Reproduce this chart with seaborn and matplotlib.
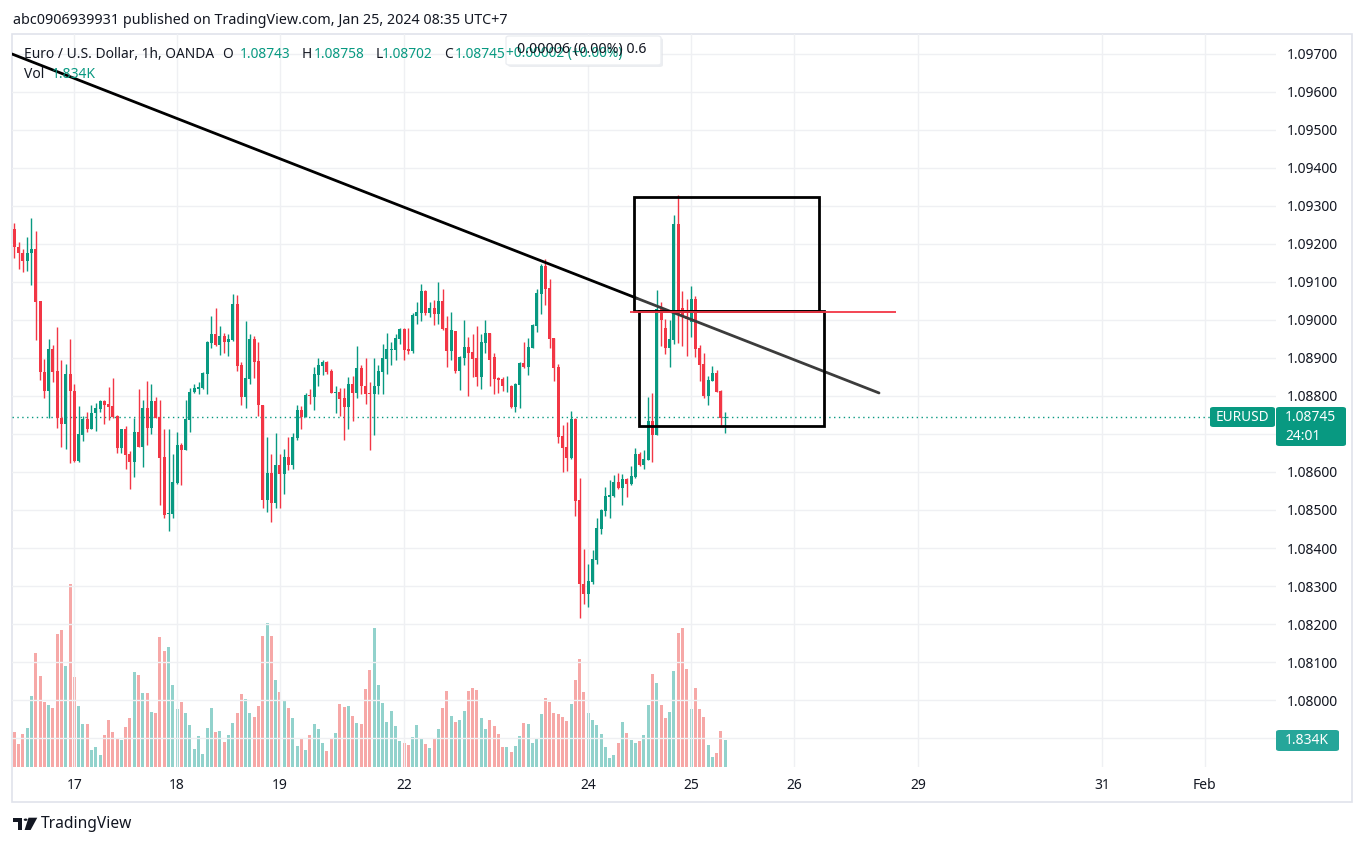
import numpy as np
import seaborn as sns
import matplotlib.pyplot as plt
from matplotlib.patches import Rectangle, FancyBboxPatch, Circle, Polygon

sns.set_theme(style="white")
plt.rcParams["font.family"] = ["Noto Sans", "DejaVu Sans"]

W, H = 1364, 846
GREEN = "#089981"
RED = "#f23645"
DARK = "#131722"

# EURUSD 1h, OANDA - hourly candles from Jan 16 10:00 to Jan 25 08:00 (UTC+7)
opens = [
    1.09240, 1.09192, 1.09177, 1.09154, 1.09175, 1.09187, 1.09050, 1.08863, 1.08814, 1.08924,
    1.08866, 1.08742, 1.08725, 1.08858, 1.08813, 1.08630, 1.08698, 1.08740, 1.08714, 1.08754,
    1.08767, 1.08787, 1.08779, 1.08774, 1.08748, 1.08662, 1.08712, 1.08648, 1.08625, 1.08704,
    1.08667, 1.08769, 1.08717, 1.08787, 1.08745, 1.08640, 1.08490, 1.08490, 1.08572, 1.08671,
    1.08659, 1.08738, 1.08811, 1.08818, 1.08821, 1.08858, 1.08940, 1.08963, 1.08935, 1.08958,
    1.08943, 1.08947, 1.09042, 1.08882, 1.08798, 1.08846, 1.08950, 1.08892, 1.08776, 1.08525,
    1.08597, 1.08519, 1.08618, 1.08596, 1.08640, 1.08619, 1.08690, 1.08763, 1.08746, 1.08803,
    1.08798, 1.08855, 1.08879, 1.08890, 1.08866, 1.08808, 1.08811, 1.08796, 1.08772, 1.08832,
    1.08809, 1.08874, 1.08826, 1.08808, 1.08804, 1.08825, 1.08864, 1.08898, 1.08922, 1.08922,
    1.08951, 1.08976, 1.08924, 1.08919, 1.09011, 1.09019, 1.09076, 1.09019, 1.09032, 1.09017,
    1.09050, 1.08979, 1.08919, 1.08971, 1.08867, 1.08901, 1.08929, 1.08916, 1.08901, 1.08851,
    1.08940, 1.08966, 1.08903, 1.08848, 1.08846, 1.08825, 1.08827, 1.08772, 1.08830, 1.08887,
    1.08875, 1.08927, 1.08985, 1.09069, 1.09142, 1.09084, 1.08952, 1.08876, 1.08694, 1.08666,
    1.08637, 1.08740, 1.08527, 1.08306, 1.08280, 1.08311, 1.08369, 1.08451, 1.08498, 1.08535,
    1.08537, 1.08574, 1.08558, 1.08582, 1.08569, 1.08588, 1.08647, 1.08619, 1.08632, 1.08735,
    1.08698, 1.09028, 1.08979, 1.08927, 1.08948, 1.09252, 1.09032, 1.09011, 1.08995, 1.09056,
    1.08927, 1.08885, 1.08801, 1.08840, 1.08861, 1.08814, 1.08743,
]
highs = [
    1.09256, 1.09204, 1.09187, 1.09219, 1.09269, 1.09234, 1.09050, 1.08898, 1.08950, 1.08934,
    1.08982, 1.08894, 1.08885, 1.08950, 1.08832, 1.08774, 1.08748, 1.08758, 1.08776, 1.08781,
    1.08789, 1.08790, 1.08824, 1.08848, 1.08751, 1.08714, 1.08720, 1.08655, 1.08741, 1.08819,
    1.08790, 1.08840, 1.08832, 1.08798, 1.08790, 1.08712, 1.08712, 1.08648, 1.08704, 1.08676,
    1.08790, 1.08821, 1.08831, 1.08837, 1.08863, 1.08946, 1.09011, 1.09032, 1.08984, 1.08966,
    1.08963, 1.09068, 1.09066, 1.08890, 1.08997, 1.08963, 1.08958, 1.08943, 1.08777, 1.08692,
    1.08647, 1.08703, 1.08647, 1.08661, 1.08692, 1.08703, 1.08776, 1.08774, 1.08808, 1.08818,
    1.08877, 1.08900, 1.08895, 1.08892, 1.08871, 1.08826, 1.08821, 1.08821, 1.08850, 1.08853,
    1.08932, 1.08882, 1.08900, 1.08836, 1.08900, 1.08882, 1.08937, 1.08966, 1.08942, 1.08963,
    1.08979, 1.08979, 1.08979, 1.09018, 1.09047, 1.09095, 1.09079, 1.09047, 1.09053, 1.09100,
    1.09082, 1.09011, 1.09021, 1.08971, 1.08906, 1.09000, 1.08955, 1.08963, 1.08984, 1.08963,
    1.09000, 1.08966, 1.08914, 1.08851, 1.08851, 1.08853, 1.08830, 1.08835, 1.08889, 1.08942,
    1.08953, 1.08989, 1.09082, 1.09147, 1.09160, 1.09108, 1.08952, 1.08884, 1.08723, 1.08731,
    1.08761, 1.08742, 1.08585, 1.08398, 1.08358, 1.08395, 1.08479, 1.08503, 1.08561, 1.08579,
    1.08593, 1.08598, 1.08595, 1.08585, 1.08616, 1.08664, 1.08653, 1.08658, 1.08798, 1.08808,
    1.09079, 1.09048, 1.09003, 1.09000, 1.09277, 1.09329, 1.09077, 1.09056, 1.09089, 1.09064,
    1.08935, 1.08914, 1.08853, 1.08879, 1.08869, 1.08816, 1.08758,
]
lows = [
    1.09164, 1.09135, 1.09127, 1.09130, 1.09091, 1.08947, 1.08841, 1.08796, 1.08741, 1.08838,
    1.08717, 1.08667, 1.08660, 1.08623, 1.08625, 1.08625, 1.08681, 1.08705, 1.08712, 1.08709,
    1.08758, 1.08725, 1.08736, 1.08741, 1.08651, 1.08649, 1.08609, 1.08556, 1.08588, 1.08665,
    1.08612, 1.08672, 1.08701, 1.08742, 1.08514, 1.08480, 1.08446, 1.08480, 1.08569, 1.08567,
    1.08657, 1.08706, 1.08809, 1.08804, 1.08818, 1.08806, 1.08925, 1.08931, 1.08909, 1.08914,
    1.08906, 1.08945, 1.08867, 1.08776, 1.08769, 1.08832, 1.08848, 1.08748, 1.08506, 1.08496,
    1.08469, 1.08506, 1.08504, 1.08543, 1.08604, 1.08609, 1.08684, 1.08714, 1.08744, 1.08779,
    1.08764, 1.08827, 1.08855, 1.08858, 1.08808, 1.08756, 1.08748, 1.08683, 1.08714, 1.08733,
    1.08796, 1.08804, 1.08780, 1.08659, 1.08698, 1.08806, 1.08806, 1.08859, 1.08882, 1.08896,
    1.08938, 1.08896, 1.08911, 1.08914, 1.08990, 1.08997, 1.09013, 1.09009, 1.08988, 1.08990,
    1.08974, 1.08875, 1.08896, 1.08861, 1.08817, 1.08882, 1.08801, 1.08851, 1.08827, 1.08819,
    1.08914, 1.08825, 1.08806, 1.08809, 1.08814, 1.08811, 1.08769, 1.08759, 1.08769, 1.08874,
    1.08856, 1.08925, 1.08969, 1.09017, 1.09040, 1.08927, 1.08840, 1.08677, 1.08600, 1.08603,
    1.08635, 1.08485, 1.08216, 1.08253, 1.08245, 1.08306, 1.08358, 1.08437, 1.08485, 1.08479,
    1.08535, 1.08556, 1.08514, 1.08535, 1.08566, 1.08585, 1.08616, 1.08608, 1.08632, 1.08627,
    1.08698, 1.08932, 1.08911, 1.08877, 1.08937, 1.08940, 1.08932, 1.08906, 1.08956, 1.08903,
    1.08840, 1.08795, 1.08777, 1.08840, 1.08811, 1.08724, 1.08702,
]
closes = [
    1.09191, 1.09175, 1.09154, 1.09177, 1.09187, 1.09048, 1.08862, 1.08814, 1.08924, 1.08863,
    1.08741, 1.08725, 1.08858, 1.08812, 1.08630, 1.08700, 1.08740, 1.08714, 1.08755, 1.08769,
    1.08787, 1.08777, 1.08772, 1.08746, 1.08662, 1.08712, 1.08646, 1.08625, 1.08704, 1.08667,
    1.08769, 1.08717, 1.08787, 1.08743, 1.08638, 1.08488, 1.08492, 1.08574, 1.08671, 1.08659,
    1.08740, 1.08811, 1.08821, 1.08824, 1.08861, 1.08943, 1.08963, 1.08933, 1.08958, 1.08943,
    1.08950, 1.09042, 1.08880, 1.08798, 1.08847, 1.08950, 1.08890, 1.08775, 1.08525, 1.08597,
    1.08519, 1.08618, 1.08596, 1.08640, 1.08618, 1.08692, 1.08763, 1.08746, 1.08803, 1.08800,
    1.08858, 1.08882, 1.08890, 1.08863, 1.08809, 1.08811, 1.08793, 1.08772, 1.08832, 1.08809,
    1.08874, 1.08825, 1.08806, 1.08804, 1.08826, 1.08866, 1.08900, 1.08924, 1.08924, 1.08953,
    1.08976, 1.08922, 1.08919, 1.09013, 1.09021, 1.09076, 1.09019, 1.09032, 1.09017, 1.09050,
    1.08976, 1.08919, 1.08974, 1.08867, 1.08903, 1.08929, 1.08914, 1.08898, 1.08851, 1.08942,
    1.08966, 1.08896, 1.08846, 1.08843, 1.08825, 1.08827, 1.08772, 1.08832, 1.08887, 1.08875,
    1.08929, 1.08987, 1.09071, 1.09142, 1.09082, 1.08950, 1.08874, 1.08693, 1.08664, 1.08637,
    1.08740, 1.08524, 1.08306, 1.08280, 1.08314, 1.08371, 1.08453, 1.08500, 1.08537, 1.08540,
    1.08574, 1.08558, 1.08582, 1.08569, 1.08590, 1.08647, 1.08619, 1.08635, 1.08735, 1.08698,
    1.09028, 1.09000, 1.08927, 1.08950, 1.09252, 1.09016, 1.09008, 1.09003, 1.09056, 1.08924,
    1.08882, 1.08801, 1.08843, 1.08861, 1.08811, 1.08743, 1.08745,
]
# volume, thousands
volumes = [
    2.38, 1.56, 2.24, 2.66, 4.85, 7.81, 6.23, 4.44, 4.24, 4.03,
    9.11, 9.39, 6.92, 12.55, 6.16, 4.17, 2.93, 2.93, 1.15, 1.35,
    0.80, 2.18, 3.21, 2.38, 1.97, 1.83, 2.73, 3.34, 6.50, 6.30,
    5.06, 5.06, 3.76, 3.69, 8.91, 7.95, 8.22, 5.61, 3.96, 4.44,
    3.69, 2.86, 1.21, 2.11, 0.87, 2.66, 4.03, 2.38, 2.45, 1.69,
    2.18, 3.00, 3.69, 4.99, 4.65, 3.69, 3.41, 4.17, 8.98, 9.87,
    8.98, 5.95, 5.13, 4.51, 4.03, 3.34, 1.42, 1.90, 1.15, 2.18,
    2.93, 2.59, 1.63, 1.08, 1.90, 2.31, 4.31, 4.10, 4.17, 3.48,
    3.00, 2.93, 5.34, 6.64, 9.53, 5.61, 4.37, 3.07, 3.82, 2.79,
    1.76, 1.63, 1.49, 2.04, 2.86, 1.90, 1.56, 1.28, 1.90, 2.59,
    4.03, 5.20, 3.48, 3.07, 3.21, 3.82, 5.20, 5.40, 5.27, 3.34,
    2.59, 3.21, 2.79, 2.24, 1.35, 1.35, 1.01, 1.42, 2.11, 3.00,
    2.93, 1.63, 1.97, 3.62, 4.72, 4.44, 3.69, 3.62, 3.41, 3.14,
    4.31, 5.95, 7.40, 5.13, 3.69, 3.21, 2.86, 2.24, 1.35, 0.60,
    0.80, 1.63, 3.07, 2.31, 1.83, 1.63, 1.76, 2.18, 4.24, 6.37,
    5.75, 4.24, 3.34, 3.76, 6.57, 9.18, 9.53, 6.71, 3.96, 5.40,
    3.96, 3.41, 1.49, 0.66, 0.94, 2.45, 1.834,
]

first_bar = -14  # bar 0 = Jan 17 00:00
tick_labels = ["17", "18", "19", "22", "24", "25", "26", "29", "31", "Feb"]
tick_bars = [0, 24, 48, 77, 120, 144, 168, 197, 240, 264]
price_ticks = [1.079, 1.080, 1.081, 1.082, 1.083, 1.084, 1.085, 1.086, 1.087, 1.088,
               1.089, 1.090, 1.091, 1.092, 1.093, 1.094, 1.095, 1.096, 1.097]
hidden_ticks = [1.079, 1.087]  # sit under the volume / last price labels

# drawings
trend_x = [-14.55, 131.4, 187.9]
trend_y = [1.09700, 1.09057, 1.08808]
box_upper = (130.7, 173.9, 1.09024, 1.09324)
box_lower = (131.9, 175.0, 1.08721, 1.09024)
red_level = (129.7, 191.9, 1.09021)

o = np.array(opens); h = np.array(highs); l = np.array(lows); c = np.array(closes)
v = np.array(volumes)
bars = np.arange(len(c)) + first_bar
up = c >= o


def fx(x):
    return x / W


def fy(y):
    return 1 - y / H


fig = plt.figure(figsize=(W / 100, H / 100), dpi=100, facecolor="white")
rect = [fx(12), fy(767), (1276 - 12) / W, (767 - 34) / H]

# volume pane underneath
vax = fig.add_axes(rect, zorder=0)
vax.bar(bars, v, width=0.7, color=np.where(up, "#26a69a", "#ef5350"), alpha=0.5, lw=0)
vax.set_xlim(-14.55, 280.6)
vax.set_ylim(0, 50.36)
vax.axis("off")

ax = fig.add_axes(rect, zorder=1)
ax.patch.set_visible(False)
ax.set_xlim(-14.55, 280.6)
ax.set_ylim(1.078237, 1.097526)
ax.grid(True, color="#eff0f3", lw=1)
ax.set_axisbelow(True)

cols = np.where(up, GREEN, RED)
ax.vlines(bars, l, h, colors=cols, lw=1, zorder=3)
ax.bar(bars, np.maximum(np.abs(c - o), 0.000012), bottom=np.minimum(o, c),
       width=0.7, color=cols, lw=0, zorder=4)

ax.axhline(c[-1], color=GREEN, lw=1, ls=(0, (1, 2.5)), zorder=2)

sns.lineplot(x=trend_x[:2], y=trend_y[:2], ax=ax, color="black", lw=2, zorder=5)
sns.lineplot(x=trend_x[1:], y=trend_y[1:], ax=ax, color="#3c3c3c", lw=2, zorder=5)

for x0, x1, y0, y1 in (box_upper, box_lower):
    ax.add_patch(Rectangle((x0, y0), x1 - x0, y1 - y0, fill=False, ec="black", lw=2, zorder=6))
ax.hlines(red_level[2], red_level[0], red_level[1], color=RED, lw=1.3, zorder=6)

ax.set_xticks(tick_bars)
ax.set_xticklabels(tick_labels)
ax.set_yticks(price_ticks)
ax.set_yticklabels(["" if p in hidden_ticks else f"{p:.5f}" for p in price_ticks])
ax.yaxis.tick_right()
ax.tick_params(axis="y", length=0, pad=7.5, labelsize=10, labelcolor=DARK)
ax.tick_params(axis="x", length=0, pad=8, labelsize=10, labelcolor=DARK)
ax.set_xlabel("")
ax.set_ylabel("")
for s in ax.spines.values():
    s.set_visible(False)

# frame around the chart
fig.add_artist(Rectangle((fx(11.5), fy(802)), 1340.5 / W, 768 / H, transform=fig.transFigure,
                         fill=False, ec="#e0e3eb", lw=1.2, zorder=0))


def box(x0, y0, x1, y1, fc, ec="none", r=0.0025, z=7, **kw):
    p = FancyBboxPatch((fx(x0), fy(y1)), (x1 - x0) / W, (y1 - y0) / H,
                       boxstyle=f"round,pad=0,rounding_size={r}", transform=fig.transFigure,
                       fc=fc, ec=ec, zorder=z, **kw)
    fig.add_artist(p)


def txt(x, y, s, color=DARK, size=10, **kw):
    fig.text(fx(x), fy(y), s, color=color, fontsize=size, va="center", zorder=9, **kw)


txt(13, 20, "abc0906939931 published on TradingView.com, Jan 25, 2024 08:35 UTC+7", size=10.3)

# tooltip behind legend
box(508, 38, 663, 67, "#dfe1e6", z=7, alpha=0.6)
box(506, 36, 661, 65, "white", ec="#eceef2", z=7)

legend = [("Euro / U.S. Dollar, 1h, OANDA", 24, DARK), ("O", 222.5, DARK), ("1.08743", 240, GREEN),
          ("H", 301.5, DARK), ("1.08758", 313.5, GREEN), ("L", 375.5, DARK), ("1.08702", 382, GREEN),
          ("C", 444.5, DARK), ("1.08745", 454.5, GREEN), ("+0.00002 (+0.00%)", 505.5, GREEN)]
for s, x, col in legend:
    txt(x, 54, s, color=col, size=9.9)
txt(517, 49, "0.00006 (0.00%) 0.6", size=10.2)
txt(24, 75, "Vol", size=10)
txt(52, 75, "1.834K", color=GREEN, size=10)

# right scale labels
box(1210, 407, 1275, 427, GREEN)
txt(1242.5, 417, "EURUSD", color="white", size=9.8, ha="center", fontweight="semibold")
box(1276, 407, 1346, 446, GREEN)
txt(1285, 417.5, "1.08745", color="white", size=10, fontweight="bold")
txt(1285, 436, "24:01", color="white", size=10)
box(1276, 730, 1339, 751, "#26a69a")
txt(1285, 740.5, "1.834K", color="white", size=10)

# TradingView logo
for art in (
    Polygon([(fx(12.7), fy(817.7)), (fx(22.3), fy(817.7)), (fx(22.3), fy(830)), (fx(17.6), fy(830)),
             (fx(17.6), fy(821.6)), (fx(12.7), fy(821.6))], closed=True),
    Circle((fx(25.6), fy(819.7)), 1.9 / W),
    Polygon([(fx(28.5), fy(817.7)), (fx(37.3), fy(817.7)), (fx(30.6), fy(830)), (fx(24.6), fy(830))],
            closed=True),
):
    art.set_transform(fig.transFigure)
    art.set_facecolor(DARK)
    art.set_edgecolor("none")
    fig.add_artist(art)
txt(41, 824, "TradingView", size=11.2)

fig.savefig("out.png", dpi=100, facecolor="white")
